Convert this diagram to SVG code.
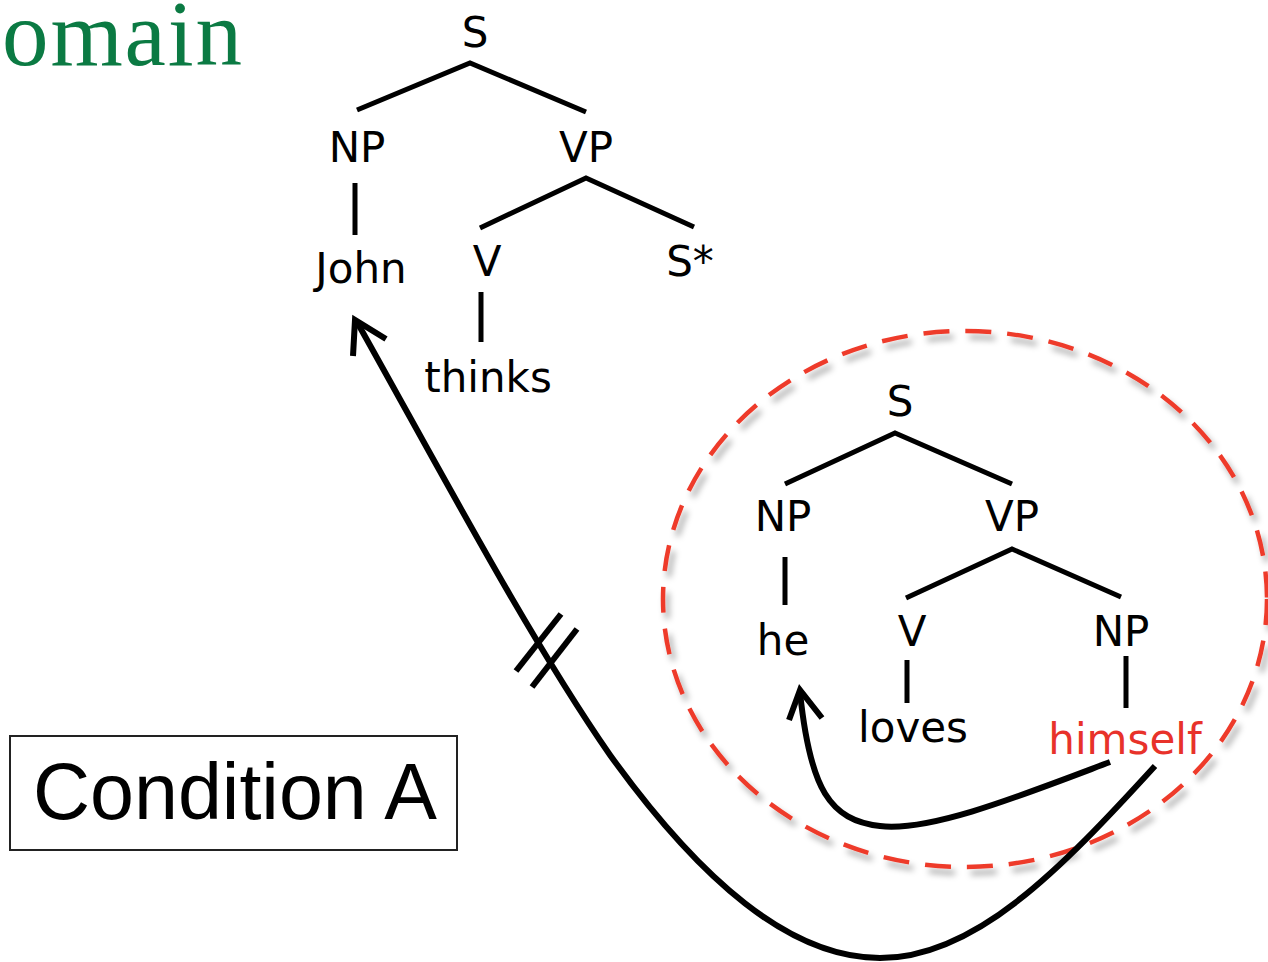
<svg xmlns="http://www.w3.org/2000/svg" width="1268" height="962" viewBox="0 0 1268 962">
<style>
.lbl{font-family:"DejaVu Sans","Liberation Sans",sans-serif;font-size:42px;fill:#000;text-anchor:middle}
.red{fill:#e8322a}
.edge{stroke:#000;stroke-width:5;fill:none}
.arc{stroke:#000;stroke-width:6;fill:none;stroke-linecap:butt}
</style>
<defs>
<filter id="sh" x="-10%" y="-10%" width="125%" height="125%">
<feDropShadow dx="4" dy="6" stdDeviation="3" flood-color="#000" flood-opacity="0.35"/>
</filter>
</defs>
<rect width="1268" height="962" fill="#fff"/>
<text x="2" y="65" font-family="Liberation Serif, serif" font-size="93" fill="#0b7a43" textLength="240" lengthAdjust="spacing">omain</text>

<g id="domain">
<ellipse cx="965" cy="599" rx="302" ry="268" fill="none" stroke="#ee3a2b" stroke-width="4.5" stroke-dasharray="26 16" filter="url(#sh)"/>
</g>

<g id="tree1-edges" class="edges">
<polyline class="edge" points="357,110 470,63 586,112"/>
<line class="edge" x1="355" y1="183" x2="355" y2="235"/>
<polyline class="edge" points="480,228 586,178 694,227"/>
<line class="edge" x1="481" y1="292" x2="481" y2="342"/>
</g>
<g id="tree2-edges">
<polyline class="edge" points="785,484 895,433 1012,484"/>
<line class="edge" x1="785" y1="557" x2="785" y2="605"/>
<polyline class="edge" points="906,598 1012,549 1121,597"/>
<line class="edge" x1="907" y1="660" x2="907" y2="703"/>
<line class="edge" x1="1126" y1="656" x2="1126" y2="708"/>
</g>

<g id="n-S1"><text class="lbl" x="475" y="47">S</text></g>
<g id="n-NP1"><text class="lbl" x="357" y="162">NP</text></g>
<g id="n-VP1"><text class="lbl" x="586" y="162">VP</text></g>
<g id="n-John"><text class="lbl" x="361" y="283">John</text></g>
<g id="n-V1"><text class="lbl" x="487" y="276">V</text></g>
<g id="n-Sstar"><text class="lbl" x="690" y="276">S*</text></g>
<g id="n-thinks"><text class="lbl" x="488" y="392">thinks</text></g>

<g id="n-S2"><text class="lbl" x="900" y="416">S</text></g>
<g id="n-NP2"><text class="lbl" x="783" y="531">NP</text></g>
<g id="n-VP2"><text class="lbl" x="1012" y="531">VP</text></g>
<g id="n-he"><text class="lbl" x="783" y="655">he</text></g>
<g id="n-V2"><text class="lbl" x="912" y="646">V</text></g>
<g id="n-NP3"><text class="lbl" x="1121" y="646">NP</text></g>
<g id="n-loves"><text class="lbl" x="913" y="742">loves</text></g>
<g id="n-himself"><text class="lbl red" x="1125" y="754">himself</text></g>

<g id="connectors">
<path class="arc" d="M1110,762 C1020,796 930,832 880,826 C830,820 810,790 800,692"/>
<polyline class="arc" points="789,720 800,690 822,718" stroke-linejoin="miter"/>
<path class="arc" d="M1155,766 C1060,870 975,958 880,958 C790,958 700,880 610,755 C530,640 440,470 357,322"/>
<polyline class="arc" points="353,356 355,320 386,339" stroke-linejoin="miter"/>
<line class="arc" x1="516" y1="671" x2="561" y2="614"/>
<line class="arc" x1="532" y1="687" x2="577" y2="629"/>
</g>

<g id="condition">
<rect x="10" y="736" width="447" height="114" fill="none" stroke="#222" stroke-width="2"/>
<text x="33" y="819" font-family="Liberation Sans, Arial, sans-serif" font-size="79" fill="#000">Condition A</text>
</g>
</svg>
